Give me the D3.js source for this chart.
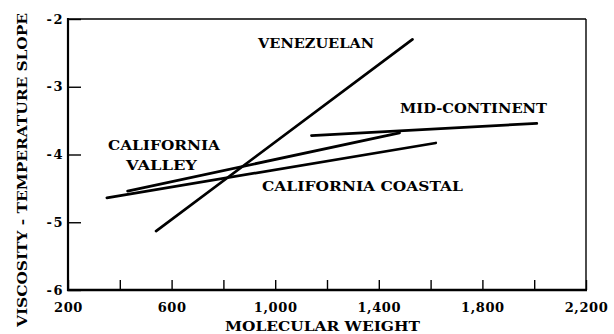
<!DOCTYPE html>
<html>
<head>
<meta charset="utf-8">
<script src="https://cdn.jsdelivr.net/npm/d3@7"></script>
<style>
  html, body { margin: 0; padding: 0; background: #fff; }
  svg { display: block; }
  text { font-family: "DejaVu Serif", "Liberation Serif", serif; font-weight: bold; fill: #000; }
</style>
</head>
<body>
<svg id="chart" width="614" height="334"></svg>
<script>
// Crude-oil families: viscosity-temperature slope vs molecular weight
const seriesNames = ["VENEZUELAN", "CALIFORNIA VALLEY", "CALIFORNIA COASTAL", "MID-CONTINENT"];
const venezuelan = [[540, -5.13], [1530, -2.30]];
const californiaValley = [[430, -4.54], [1480, -3.68]];
const californiaCoastal = [[350, -4.64], [1620, -3.83]];
const midContinent = [[1140, -3.72], [2010, -3.54]];

const xTicks = [200, 400, 600, 800, 1000, 1200, 1400, 1600, 1800, 2000, 2200];
const xLabeled = [200, 600, 1000, 1400, 1800, 2200];
const yTicks = [-2, -3, -4, -5, -6];

const xTitle = "MOLECULAR WEIGHT";
const yTitle = "VISCOSITY - TEMPERATURE SLOPE";

const svg = d3.select("#chart");
const plotLeft = 68, plotRight = 586, plotTop = 19, plotBottom = 290;

const x = d3.scaleLinear().domain([200, 2200]).range([plotLeft, plotRight]);
const y = d3.scaleLinear().domain([-6, -2]).range([plotBottom, plotTop]);

// frame
svg.append("line").attr("x1", plotLeft).attr("x2", plotRight).attr("y1", plotTop).attr("y2", plotTop)
  .attr("stroke", "#000").attr("stroke-width", 1.6);
svg.append("line").attr("x1", plotRight).attr("x2", plotRight).attr("y1", plotTop).attr("y2", plotBottom)
  .attr("stroke", "#000").attr("stroke-width", 1.4);

// axes with inward ticks
const fmt = d3.format(",");
const xAxis = d3.axisBottom(x).tickValues(xTicks).tickSize(-10).tickPadding(7)
  .tickFormat(d => xLabeled.includes(d) ? fmt(d) : "");
const gx = svg.append("g").attr("transform", `translate(0,${plotBottom})`).call(xAxis);
gx.select(".domain").remove();
gx.selectAll(".tick line").attr("stroke", "#000").attr("stroke-width", 1.4);
gx.selectAll(".tick text").style("font-size", "13px").style("font-family", "DejaVu Serif")
  .style("font-weight", "bold").style("letter-spacing", "0.6px")
  .attr("dy", "0.75em").attr("y", 12);

const yAxis = d3.axisLeft(y).tickValues(yTicks).tickSize(-13).tickPadding(4)
  .tickFormat(d => "-" + Math.abs(d));
const gy = svg.append("g").attr("transform", `translate(${plotLeft},0)`).call(yAxis);
gy.select(".domain").remove();
gy.selectAll(".tick line").attr("stroke", "#000").attr("stroke-width", 1.4);
gy.selectAll(".tick text").style("font-size", "13px").style("font-family", "DejaVu Serif")
  .style("font-weight", "bold").style("letter-spacing", "1.5px");

svg.append("line").attr("x1", plotLeft).attr("x2", plotLeft).attr("y1", plotTop - 1).attr("y2", plotBottom + 1)
  .attr("stroke", "#000").attr("stroke-width", 2.2);
svg.append("line").attr("x1", plotLeft - 1).attr("x2", plotRight + 1).attr("y1", plotBottom).attr("y2", plotBottom)
  .attr("stroke", "#000").attr("stroke-width", 2.4);

// series lines
const line = d3.line().x(d => x(d[0])).y(d => y(d[1]));
[venezuelan, californiaValley, californiaCoastal, midContinent].forEach(s => {
  svg.append("path").attr("d", line(s)).attr("fill", "none")
    .attr("stroke", "#000").attr("stroke-width", 2.7).attr("stroke-linecap", "round");
});

// series labels
const labels = [
  { text: "VENEZUELAN", x: 258, y: 48, w: 116 },
  { text: "MID-CONTINENT", x: 400, y: 113, w: 147 },
  { text: "CALIFORNIA", x: 108, y: 150, w: 112 },
  { text: "VALLEY", x: 126, y: 170, w: 71 },
  { text: "CALIFORNIA COASTAL", x: 262, y: 191, w: 201 }
];
svg.selectAll("text.lbl").data(labels).enter().append("text").attr("class", "lbl")
  .attr("x", d => d.x).attr("y", d => d.y).attr("textLength", d => d.w)
  .attr("lengthAdjust", "spacingAndGlyphs").style("font-size", "13.5px").text(d => d.text);

// axis titles
svg.append("text").attr("x", 225).attr("y", 331).attr("textLength", 195)
  .attr("lengthAdjust", "spacingAndGlyphs").style("font-size", "13.5px").text(xTitle);
svg.append("text").attr("transform", "translate(27,170) rotate(-90)").attr("text-anchor", "middle")
  .attr("textLength", 314).attr("lengthAdjust", "spacingAndGlyphs")
  .style("font-size", "13.5px").text(yTitle);
</script>
</body>
</html>
